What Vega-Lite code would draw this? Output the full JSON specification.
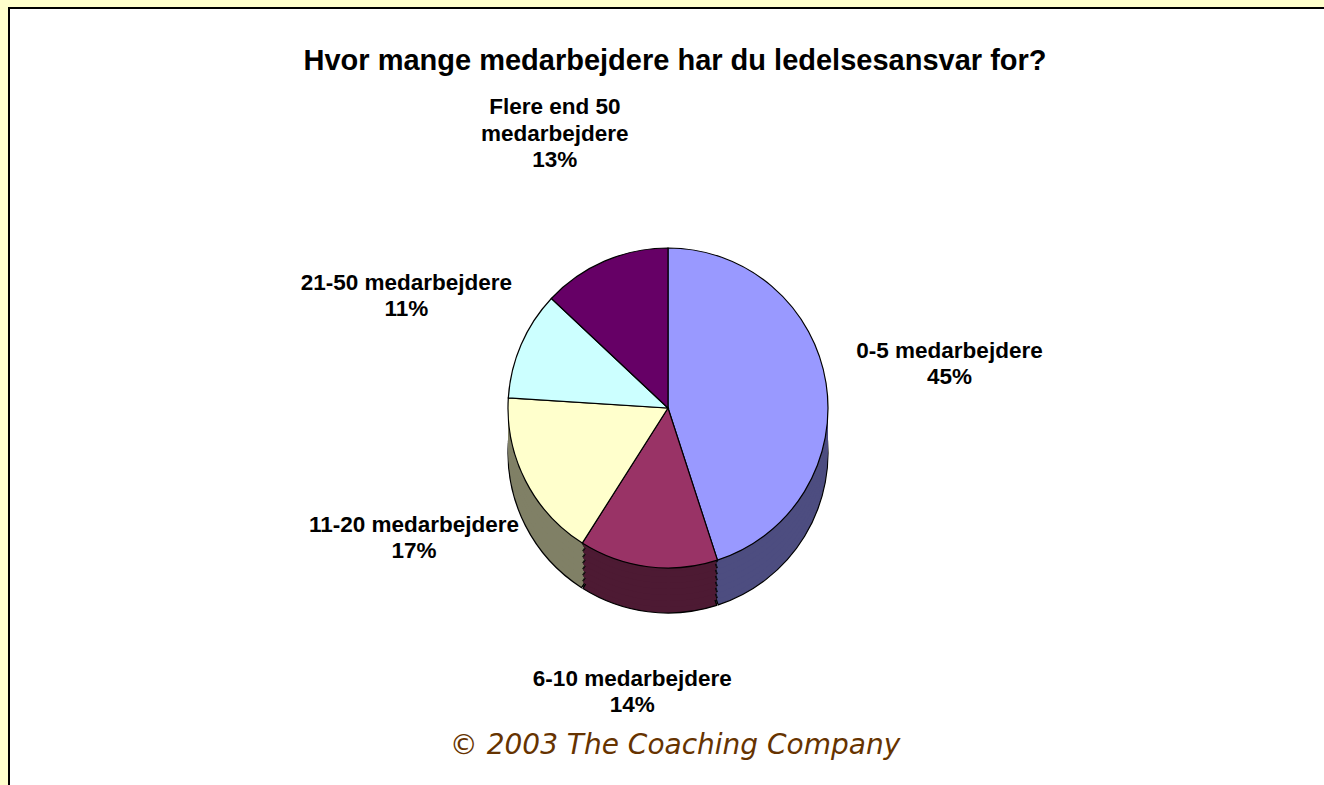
{
  "$schema": "https://vega.github.io/schema/vega-lite/v6.json",
  "width": 1318,
  "height": 780,
  "autosize": {"type": "none"},
  "padding": {"left": 9, "top": 8, "right": 0, "bottom": 0},
  "background": "#FFFFCC",
  "view": {"fill": "white", "stroke": "black", "strokeWidth": 2},
  "title": {
    "text": "Hvor mange medarbejdere har du ledelsesansvar for?",
    "subtitle": "© 2003 The Coaching Company",
    "anchor": "middle",
    "frame": "group",
    "dx": 7,
    "offset": -752,
    "subtitlePadding": 656,
    "font": "Liberation Sans",
    "fontSize": 29,
    "fontWeight": "bold",
    "color": "black",
    "subtitleFont": "DejaVu Sans",
    "subtitleFontSize": 28,
    "subtitleFontStyle": "italic",
    "subtitleColor": "#663300"
  },
  "data": {
    "values": [
      {"cat": "0-5 medarbejdere", "pre": "", "line": "0-5 medarbejdere", "pct": 0.45, "order": 1},
      {"cat": "6-10 medarbejdere", "pre": "", "line": "6-10 medarbejdere", "pct": 0.14, "order": 2},
      {"cat": "11-20 medarbejdere", "pre": "", "line": "11-20 medarbejdere", "pct": 0.17, "order": 3},
      {"cat": "21-50 medarbejdere", "pre": "", "line": "21-50 medarbejdere", "pct": 0.11, "order": 4},
      {"cat": "Flere end 50 medarbejdere", "pre": "Flere end 50", "line": "medarbejdere", "pct": 0.13, "order": 5}
    ]
  },
  "encoding": {
    "theta": {"field": "pct", "type": "quantitative", "stack": true},
    "order": {"field": "order", "type": "quantitative"},
    "color": {
      "field": "cat",
      "type": "nominal",
      "legend": null,
      "scale": {
        "domain": ["0-5 medarbejdere", "6-10 medarbejdere", "11-20 medarbejdere", "21-50 medarbejdere", "Flere end 50 medarbejdere"],
        "range": ["#4D4D80", "#4D1A33", "#808066", "#668080", "#330033"]
      }
    }
  },
  "layer": [
    {"mark": {"type": "arc", "radius": 159, "yOffset": 55}, "encoding": {"color": {"value": "black"}}},
    {"mark": {"type": "arc", "radius": 160, "yOffset": 55, "padAngle": 0.01, "stroke": "black", "strokeWidth": 1.2}},
    {"mark": {"type": "arc", "radius": 159, "yOffset": 49}, "encoding": {"color": {"value": "black"}}},
    {"mark": {"type": "arc", "radius": 160, "yOffset": 49, "padAngle": 0.01}},
    {"mark": {"type": "arc", "radius": 159, "yOffset": 43}, "encoding": {"color": {"value": "black"}}},
    {"mark": {"type": "arc", "radius": 160, "yOffset": 43, "padAngle": 0.01}},
    {"mark": {"type": "arc", "radius": 159, "yOffset": 37}, "encoding": {"color": {"value": "black"}}},
    {"mark": {"type": "arc", "radius": 160, "yOffset": 37, "padAngle": 0.01}},
    {"mark": {"type": "arc", "radius": 159, "yOffset": 31}, "encoding": {"color": {"value": "black"}}},
    {"mark": {"type": "arc", "radius": 160, "yOffset": 31, "padAngle": 0.01}},
    {"mark": {"type": "arc", "radius": 159, "yOffset": 25}, "encoding": {"color": {"value": "black"}}},
    {"mark": {"type": "arc", "radius": 160, "yOffset": 25, "padAngle": 0.01}},
    {"mark": {"type": "arc", "radius": 159, "yOffset": 19}, "encoding": {"color": {"value": "black"}}},
    {"mark": {"type": "arc", "radius": 160, "yOffset": 19, "padAngle": 0.01}},
    {"mark": {"type": "arc", "radius": 159, "yOffset": 13}, "encoding": {"color": {"value": "black"}}},
    {"mark": {"type": "arc", "radius": 160, "yOffset": 13, "padAngle": 0.01}},
    {
      "mark": {"type": "arc", "radius": 160, "yOffset": 10, "stroke": "black", "strokeWidth": 1.2},
      "encoding": {
        "fill": {
          "field": "cat",
          "type": "nominal",
          "legend": null,
          "scale": {
            "domain": ["0-5 medarbejdere", "6-10 medarbejdere", "11-20 medarbejdere", "21-50 medarbejdere", "Flere end 50 medarbejdere"],
            "range": ["#9999FF", "#993366", "#FFFFCC", "#CCFFFF", "#660066"]
          }
        }
      }
    },
    {
      "mark": {"type": "text", "radius": 285, "yOffset": 10, "baseline": "bottom", "dy": -27, "font": "Liberation Sans", "fontSize": 22.5, "fontWeight": "bold"},
      "encoding": {"text": {"field": "pre", "type": "nominal"}, "color": {"value": "black"}}
    },
    {
      "mark": {"type": "text", "radius": 285, "yOffset": 10, "baseline": "bottom", "font": "Liberation Sans", "fontSize": 22.5, "fontWeight": "bold"},
      "encoding": {"text": {"field": "line", "type": "nominal"}, "color": {"value": "black"}}
    },
    {
      "mark": {"type": "text", "radius": 285, "yOffset": 10, "baseline": "top", "dy": 3, "font": "Liberation Sans", "fontSize": 22.5, "fontWeight": "bold"},
      "encoding": {"text": {"field": "pct", "type": "quantitative", "format": ".0%"}, "color": {"value": "black"}}
    }
  ]
}
